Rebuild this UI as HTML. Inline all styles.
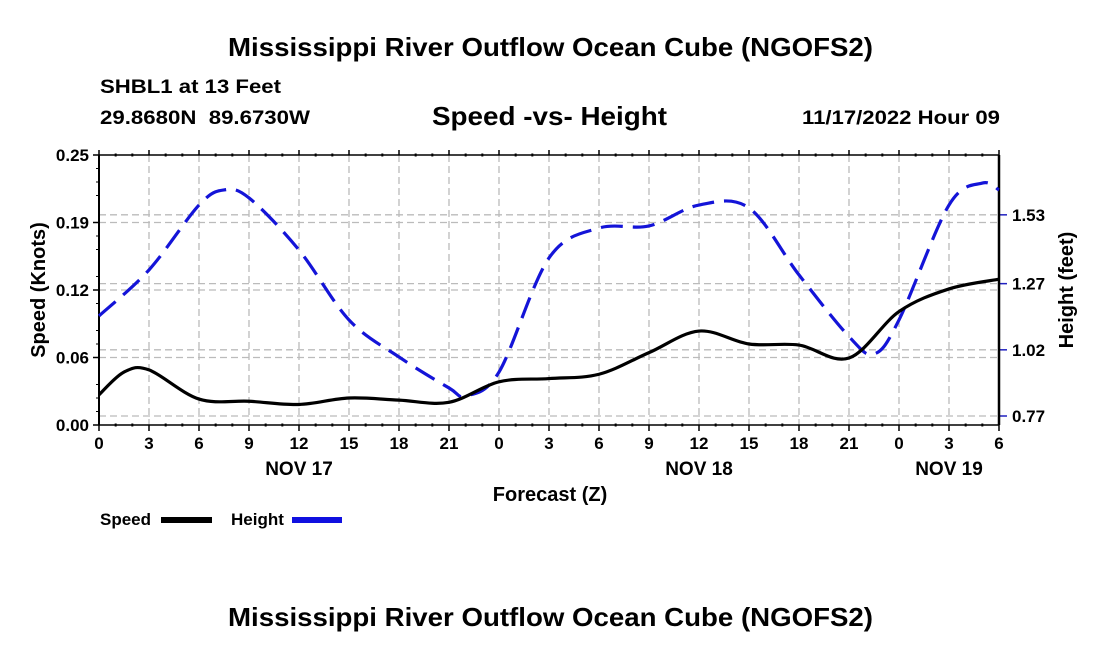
<!DOCTYPE html>
<html><head><meta charset="utf-8"><style>
body{margin:0;background:#fff;}
svg{display:block;font-family:"Liberation Sans",sans-serif;font-weight:bold;}
</style></head><body>
<svg id="chart" width="1100" height="650" viewBox="0 0 1100 650">
<text x="228" y="56" font-size="26" textLength="645" lengthAdjust="spacingAndGlyphs">Mississippi River Outflow Ocean Cube (NGOFS2)</text>
<text x="100" y="93" font-size="19" textLength="181" lengthAdjust="spacingAndGlyphs">SHBL1 at 13 Feet</text>
<text x="100" y="124" font-size="19" textLength="210" lengthAdjust="spacingAndGlyphs">29.8680N&#160;&#160;89.6730W</text>
<text x="432" y="125" font-size="26" textLength="235" lengthAdjust="spacingAndGlyphs">Speed -vs- Height</text>
<text x="802" y="124" font-size="19" textLength="198" lengthAdjust="spacingAndGlyphs">11/17/2022 Hour 09</text>
<g id="grid"></g>
<g id="axes"></g>
<g id="series"></g>
<text transform="translate(45,290) rotate(-90)" text-anchor="middle" font-size="20">Speed (Knots)</text>
<text transform="translate(1073,290) rotate(-90)" text-anchor="middle" font-size="20">Height (feet)</text>
<text x="550" y="501" text-anchor="middle" font-size="20">Forecast (Z)</text>
<g>
<text x="100" y="525" font-size="17">Speed</text>
<rect x="161" y="517" width="51" height="6" fill="#000"/>
<text x="231" y="525" font-size="17">Height</text>
<rect x="292" y="517" width="50" height="6" fill="#1010e0"/>
</g>
<text x="228" y="626" font-size="26" textLength="645" lengthAdjust="spacingAndGlyphs">Mississippi River Outflow Ocean Cube (NGOFS2)</text>
</svg>
<script>
const speedHours=[0,1.5,3,6,9,12,15,18,21,24,27,30,33,36,39,42,45,48,51,54];
const speedValues=[0.028,0.049,0.051,0.024,0.022,0.019,0.025,0.023,0.021,0.040,0.043,0.047,0.067,0.087,0.075,0.074,0.062,0.105,0.126,0.135];
const heightHours=[0,3,6,7.5,9,12,15,18,21,22,24,27,30,33,36,39,42,45,46.5,48,51,53,54];
const heightValues=[1.148,1.322,1.567,1.624,1.594,1.397,1.133,0.993,0.876,0.846,0.936,1.367,1.480,1.488,1.567,1.556,1.303,1.07,1.004,1.133,1.567,1.650,1.624];
const xTickLabels=["0","3","6","9","12","15","18","21","0","3","6","9","12","15","18","21","0","3","6"];
const dayLabels=["NOV 17","NOV 18","NOV 19"];
const dayHours=[12,36,51];
const speedTicks=[0,0.0625,0.125,0.1875,0.25];
const speedTickLabels=["0.00","0.06","0.12","0.19","0.25"];
const heightTicks=[0.77,1.02,1.27,1.53];
const heightTickLabels=["0.77","1.02","1.27","1.53"];

const X0=99,X1=999,Y0=425,Y1=155;
const x=h=>X0+h/54*(X1-X0);
const yS=v=>Y0-v/0.25*(Y0-Y1);
const yH=v=>416-(v-0.77)*264.7;
const NS="http://www.w3.org/2000/svg";
function mk(tag,attrs,parent){const e=document.createElementNS(NS,tag);for(const k in attrs)e.setAttribute(k,attrs[k]);parent.appendChild(e);return e;}
const grid=document.getElementById('grid'),axes=document.getElementById('axes'),series=document.getElementById('series');
xTickLabels.forEach((l,i)=>{
  const xx=x(i*3);
  if(i>0&&i<18){const g=mk('line',{x1:xx,x2:xx,y1:Y1,y2:Y0,stroke:'#bbb','stroke-width':1.3,'stroke-dasharray':'7,4'},grid);
  
  }
  const t=mk('line',{x1:xx,x2:xx,y1:Y0,y2:Y0+6,stroke:'#000','stroke-width':1.5},axes);
  
  
  const tt=mk('line',{x1:xx,x2:xx,y1:Y1,y2:Y1-5,stroke:'#000','stroke-width':1.5},axes);
  
  
  const tx=mk('text',{x:xx,y:449,'text-anchor':'middle','font-size':17},axes);tx.textContent=l;
  
  
});
dayLabels.forEach((l,i)=>{const t=mk('text',{x:x(dayHours[i]),y:475,'text-anchor':'middle','font-size':19},axes);t.textContent=l;
  
  });
speedTicks.forEach((v,i)=>{
  const yy=yS(v);
  if(i>0&&i<4){const g=mk('line',{x1:X0,x2:X1,y1:yy,y2:yy,stroke:'#bbb','stroke-width':1.3,'stroke-dasharray':'7,4'},grid);
  
  }
  const t=mk('line',{x1:X0-6,x2:X0,y1:yy,y2:yy,stroke:'#000','stroke-width':1.5},axes);
  
  
  const tx=mk('text',{x:X0-10,y:yy+6,'text-anchor':'end','font-size':17},axes);tx.textContent=speedTickLabels[i];
  
  
});
for(let k=1;k<20;k++){if(k%4==0)continue;const yy=yS(k*0.25/20);const m=mk('line',{x1:X0-3,x2:X0,y1:yy,y2:yy,stroke:'#000','stroke-width':1},axes);
  
  }
for(let k=1;k<54;k++){if(k%3==0)continue;[Y0,Y1].forEach(yy=>{const m=mk('rect',{x:x(k)-1,y:yy-1.5,width:2,height:3,fill:'#000'},axes);
  
  });}
heightTicks.forEach((v,i)=>{
  const yy=yH(v);
  const g=mk('line',{x1:X0,x2:X1,y1:yy,y2:yy,stroke:'#bbb','stroke-width':1.3,'stroke-dasharray':'7,4'},grid);
  
  
  const t=mk('line',{x1:X1,x2:X1+8,y1:yy,y2:yy,stroke:'#2020c0','stroke-width':1.5},axes);
  
  
  const tx=mk('text',{x:X1+13,y:yy+6,'font-size':17},axes);tx.textContent=heightTickLabels[i];
  
  
});
const frame=[[X0,Y1,X0,Y0,2],[X1,Y1,X1,Y0,2.5],[X0,Y0,X1,Y0,1.5],[X0,Y1,X1,Y1,1.5]];
frame.forEach(f=>{const l=mk('line',{x1:f[0],y1:f[1],x2:f[2],y2:f[3],stroke:'#000','stroke-width':f[4]},axes);
  
  });
function smooth(pts){let d=`M${pts[0][0]},${pts[0][1]}`;
  for(let i=0;i<pts.length-1;i++){const p0=pts[Math.max(0,i-1)],p1=pts[i],p2=pts[i+1],p3=pts[Math.min(pts.length-1,i+2)];
    const t=1/6;d+=` C${p1[0]+(p2[0]-p0[0])*t},${p1[1]+(p2[1]-p0[1])*t} ${p2[0]-(p3[0]-p1[0])*t},${p2[1]-(p3[1]-p1[1])*t} ${p2[0]},${p2[1]}`;}
  return d;}
const hp=mk('path',{d:smooth(heightHours.map((h,i)=>[x(h),yH(heightValues[i])])),fill:'none',stroke:'#1414d8','stroke-width':3.2,'stroke-dasharray':'22,10'},series);


const sp=mk('path',{d:smooth(speedHours.map((h,i)=>[x(h),yS(speedValues[i])])),fill:'none',stroke:'#000','stroke-width':3.2},series);


</script>
</body></html>
